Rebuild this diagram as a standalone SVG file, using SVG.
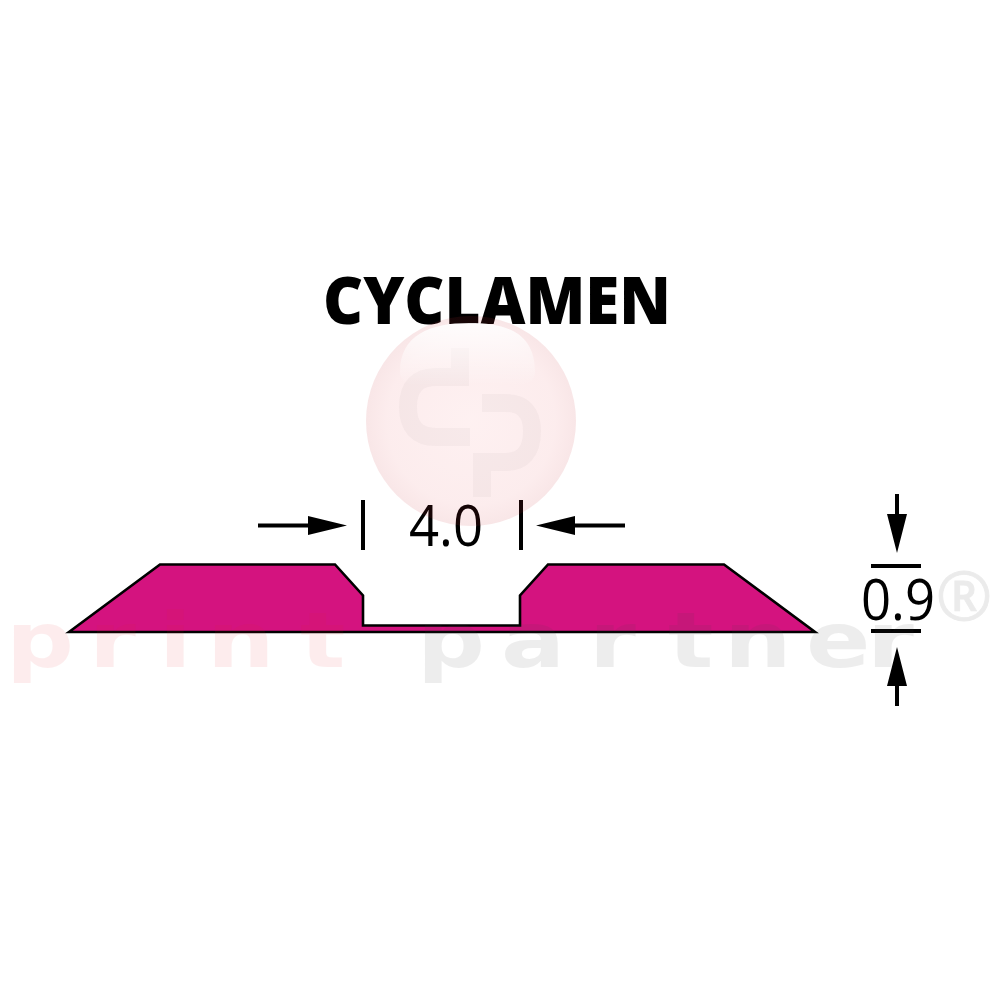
<svg xmlns="http://www.w3.org/2000/svg" width="1000" height="1000" viewBox="0 0 1000 1000">
<defs>
<style>
.dim{font-family:"Open Sans","Liberation Sans",sans-serif;font-size:56px;fill:#000}
.wm{font-family:"DejaVu Sans",sans-serif;font-weight:bold;font-size:76px}
.ln{stroke:#000;stroke-width:4;fill:none}
.hd{fill:#000}
</style>
<radialGradient id="ball" cx="50%" cy="50%" r="50%">
<stop offset="0" stop-color="#f0323a" stop-opacity=".07"/><stop offset=".8" stop-color="#e03038" stop-opacity=".09"/><stop offset="1" stop-color="#c83038" stop-opacity=".12"/>
</radialGradient>
<linearGradient id="shine" x1="0" y1="0" x2="0" y2="1">
<stop offset="0" stop-color="#fff" stop-opacity=".9"/><stop offset="1" stop-color="#fff" stop-opacity="0"/>
</linearGradient>
</defs>
<rect width="1000" height="1000" fill="#fff"/>
<g id="profile">
<path d="M69 632L160 564.500H335L363 595.500V625.500H520V595.500L548 564.500H724L815 632Z" fill="#d4137f" stroke="#000" stroke-width="2.600"/>
</g>
<g id="title"><text x="497" y="324" text-anchor="middle" font-family="'Open Sans','Liberation Sans',sans-serif" font-weight="800" font-size="66" textLength="348" lengthAdjust="spacingAndGlyphs">CYCLAMEN</text></g>
<g id="dimension-width">
<text class="dim" x="446" y="546" text-anchor="middle" textLength="74" lengthAdjust="spacingAndGlyphs">4.0</text>
<path class="ln" d="M258 525.500H312M625 525.500H571M363 500V550M521 500V550"/>
<path class="hd" d="M308 516L347 525.500L308 535ZM575 516L536 525.500L575 535Z"/>
</g>
<g id="dimension-height">
<text class="dim" x="898" y="620" text-anchor="middle" textLength="74" lengthAdjust="spacingAndGlyphs">0.9</text>
<path class="ln" d="M897 494V518M897 706V682M871 566H921M871 631H921"/>
<path class="hd" d="M887 514L897 553L907 514ZM887 686L897 647L907 686Z"/>
</g>
<g id="watermark">
<circle cx="471" cy="421" r="105" fill="url(#ball)"/>
<path d="M460 348V377H436Q408 377 408 407Q408 437 436 437H470M482 403H505Q532 403 532 431Q532 462 505 462H482V497" fill="none" stroke="#777" stroke-opacity=".05" stroke-width="18"/>
<path d="M400 372C400 335 430 323 469 323C510 323 535 335 535 372C535 392 500 384 469 384C435 384 400 392 400 372Z" fill="url(#shine)"/>
<g transform="scale(1.25 1)">
<text class="wm" x="4.800 71.200 127.200 165.600 240" y="667" fill="#e8232a" opacity=".08">print</text>
<text class="wm" x="333.600 400.800 471.200 534.400 579.200 644.800 693.600" y="667" fill="#444" opacity=".09">partner</text>
</g>
<text x="964" y="620" text-anchor="middle" font-family="'Open Sans','Liberation Sans',sans-serif" font-size="68" fill="#444" stroke="#444" stroke-width=".8" opacity=".1">®</text>
</g>
</svg>
